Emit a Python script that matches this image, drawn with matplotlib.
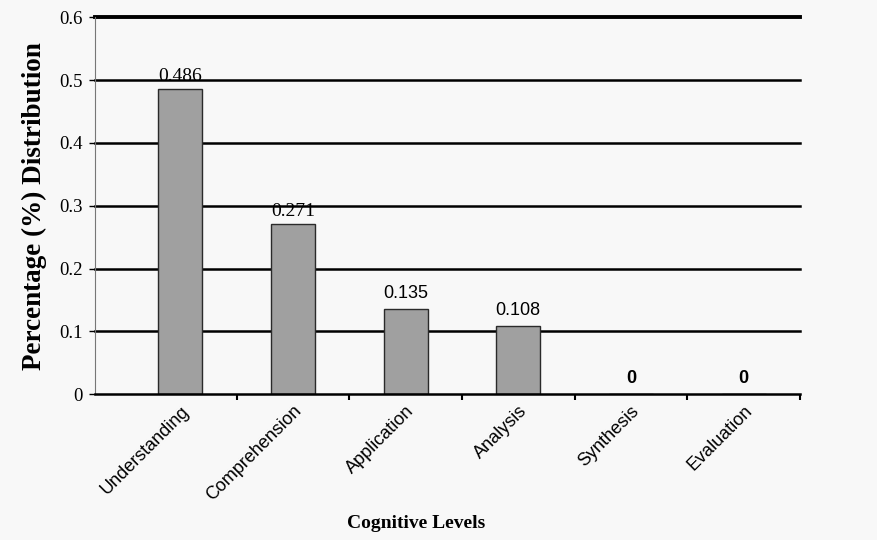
import matplotlib
matplotlib.use("Agg")
import matplotlib.pyplot as plt
import numpy as np

# Cognitive levels and their share of questions
levels = ["Understanding", "Comprehension", "Application", "Analysis", "Synthesis", "Evaluation"]
shares = [0.486, 0.271, 0.135, 0.108, 0.0, 0.0]
value_labels = ["0.486", "0.271", "0.135", "0.108", "0", "0"]
y_ticks = [0, 0.1, 0.2, 0.3, 0.4, 0.5, 0.6]
y_tick_labels = ["0", "0.1", "0.2", "0.3", "0.4", "0.5", "0.6"]

serif = ["Liberation Serif", "DejaVu Serif"]
sans = ["Liberation Sans", "DejaVu Sans"]

fig = plt.figure(figsize=(8.78, 5.40), dpi=100, facecolor="#f8f8f8")
ax = fig.add_axes([0.108, 0.270, 0.803, 0.698])
ax.set_facecolor("none")

x = np.arange(len(levels))
ax.set_xlim(-0.76, 5.17)
ax.set_ylim(0, 0.6)

# horizontal rules
for v in y_ticks[1:]:
    ax.axhline(v, color="black", lw=2.8 if v == 0.6 else 1.8, zorder=1, clip_on=False)

ax.bar(x, shares, width=0.39, color="#a0a0a0", edgecolor="#2a2a2a", linewidth=1.0, zorder=2)

# value annotations: first two in serif, remaining in sans
for i, (v, t) in enumerate(zip(shares, value_labels)):
    if i < 2:
        ax.text(x[i], v + 0.006, t, ha="center", va="bottom", fontsize=14, family=serif)
    elif v > 0:
        ax.text(x[i], v + 0.012, t, ha="center", va="bottom", fontsize=13, family=sans)
    else:
        ax.text(x[i], v + 0.012, t, ha="center", va="bottom", fontsize=13,
                family=sans, fontweight="bold")

for s in ["top", "right"]:
    ax.spines[s].set_visible(False)
ax.spines["left"].set_color("#777777")
ax.spines["left"].set_linewidth(0.8)
ax.spines["bottom"].set_color("black")
ax.spines["bottom"].set_linewidth(1.8)

ax.set_yticks(y_ticks)
ax.set_yticklabels(y_tick_labels, fontsize=13.5, family=serif)
ax.tick_params(axis="y", length=4, width=1.0, color="black", pad=5)

# category ticks sit between the bars; labels sit under the bars
ax.set_xticks(x + 0.5, minor=False)
ax.set_xticklabels([])
ax.tick_params(axis="x", which="major", length=4, width=1.5, color="black")
ax.set_xticks(x, minor=True)
ax.set_xticklabels(levels, minor=True, rotation=45, ha="right", rotation_mode="anchor",
                   fontsize=13, family=sans)
ax.tick_params(axis="x", which="minor", length=0, pad=6)

ax.set_ylabel("Percentage (%) Distribution", fontsize=19.5, family=serif,
              fontweight="bold")
ax.yaxis.set_label_coords(-0.068, 0.5)
fig.text(0.474, 0.031, "Cognitive Levels", ha="center", va="center",
         fontsize=14, family=serif, fontweight="bold")

fig.savefig("out.png", dpi=100, facecolor=fig.get_facecolor())
